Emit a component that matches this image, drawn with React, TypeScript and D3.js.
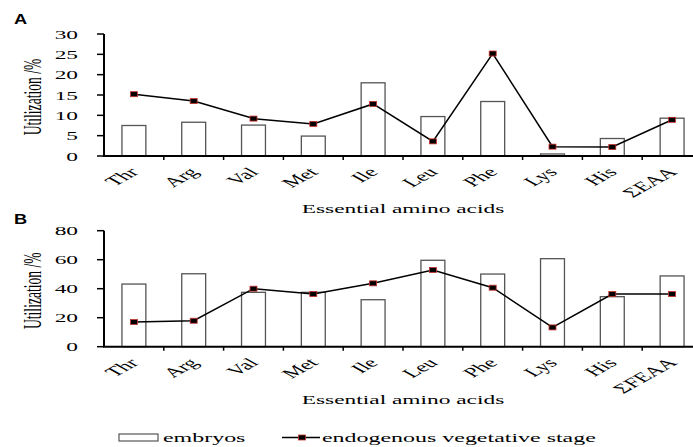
import * as d3 from "d3";
import React from "react";

// categories and values
const catsA = ["Thr", "Arg", "Val", "Met", "Ile", "Leu", "Phe", "Lys", "His", "ΣEAA"];
const catsB = ["Thr", "Arg", "Val", "Met", "Ile", "Leu", "Phe", "Lys", "His", "ΣFEAA"];
const embryosA = [7.5, 8.3, 7.6, 4.9, 18.0, 9.7, 13.4, 0.5, 4.3, 9.3];
const vegetativeA = [15.2, 13.5, 9.2, 7.9, 12.8, 3.6, 25.2, 2.3, 2.2, 8.9];
const embryosB = [43.2, 50.3, 37.5, 37.5, 32.4, 59.6, 50.1, 60.7, 34.5, 48.8];
const vegetativeB = [17.0, 17.9, 40.0, 36.3, 43.7, 52.9, 40.7, 13.3, 36.3, 36.3];
const ticksA = [0, 5, 10, 15, 20, 25, 30];
const ticksB = [0, 20, 40, 60, 80];

const K = 1.8; // the figure looks stretched sideways
const serif = "'Liberation Serif', 'Times New Roman', serif";

const Stretch = ({x, y, anchor = "start", size = 13, rotate = 0, children}: any) => (
  <text
    transform={`translate(${x},${y}) scale(${K},1) rotate(${rotate})`}
    textAnchor={anchor}
    fontFamily={serif}
    fontSize={size}
    fill="#000"
  >
    {children}
  </text>
);

const Panel = ({cats, bars, line, ticks, yMax, top, bottom, label, labelY}: any) => {
  const x = d3.scaleBand().domain(cats).range([104, 702]);
  const y = d3.scaleLinear().domain([0, yMax]).range([bottom, top]);
  const bw = x.bandwidth() * 0.4;
  const cx = (c: string) => (x(c) as number) + x.bandwidth() / 2;
  const path = d3.line<number>().x((d, i) => cx(cats[i])).y((d) => y(d))(line);
  return (
    <g>
      <text x={14} y={labelY} transform={`translate(${14},0) scale(1.3,1) translate(${-14},0)`}
        fontFamily="'Liberation Sans', Arial, sans-serif" fontWeight="bold" fontSize={14}>{label}</text>
      {bars.map((v: number, i: number) => (
        <rect key={i} x={cx(cats[i]) - bw / 2} y={y(v)} width={bw} height={bottom - y(v)}
          fill="#fff" stroke="#555" strokeWidth={1.3} />
      ))}
      <path d={path as string} fill="none" stroke="#000" strokeWidth={1.5} />
      {line.map((v: number, i: number) => (
        <rect key={i} x={cx(cats[i]) - 3.5} y={y(v) - 2.5} width={7} height={5}
          fill="#000" stroke="#c8322c" strokeWidth={0.8} />
      ))}
      {/* axes */}
      <line x1={104} x2={104} y1={top} y2={bottom} stroke="#000" strokeWidth={2} />
      <line x1={103} x2={702} y1={bottom} y2={bottom} stroke="#000" strokeWidth={2} />
      {ticks.map((t: number) => (
        <g key={t}>
          <line x1={97} x2={104} y1={y(t)} y2={y(t)} stroke="#000" strokeWidth={1.5} />
          <Stretch x={78} y={y(t) + 4.5} anchor="end" size={13}>{t}</Stretch>
        </g>
      ))}
      {cats.map((c: string) => (
        <line key={c} x1={(x(c) as number) + x.bandwidth()} x2={(x(c) as number) + x.bandwidth()}
          y1={bottom} y2={bottom + 4} stroke="#000" strokeWidth={1.5} />
      ))}
      {cats.map((c: string) => (
        <Stretch key={c} x={cx(c) + 6} y={bottom + 17} anchor="end" size={13.5} rotate={-45}>{c}</Stretch>
      ))}
      <Stretch x={41} y={(top + bottom) / 2 + 2} anchor="middle" size={13.6} rotate={-90}>Utilization /%</Stretch>
      <Stretch x={403} y={bottom + 57} anchor="middle" size={13}>Essential amino acids</Stretch>
    </g>
  );
};

export default function App() {
  return (
    <svg width={693} height={447} style={{display: "block", position: "absolute", left: 0, top: 0}}>
      <rect width={693} height={447} fill="#fff" />
      <Panel cats={catsA} bars={embryosA} line={vegetativeA} ticks={ticksA} yMax={30}
        top={34} bottom={156} label="A" labelY={24} />
      <Panel cats={catsB} bars={embryosB} line={vegetativeB} ticks={ticksB} yMax={80}
        top={230.7} bottom={346.7} label="B" labelY={224} />
      {/* legend */}
      <rect x={119} y={434} width={39} height={7} fill="#fff" stroke="#555" strokeWidth={1.2} />
      <Stretch x={163} y={442} size={13.3}>embryos</Stretch>
      <line x1={282} x2={320} y1={437.5} y2={437.5} stroke="#000" strokeWidth={1.4} />
      <rect x={298.5} y={435} width={7} height={5} fill="#000" stroke="#c8322c" strokeWidth={0.8} />
      <Stretch x={322} y={442} size={13.3}>endogenous vegetative stage</Stretch>
    </svg>
  );
}
